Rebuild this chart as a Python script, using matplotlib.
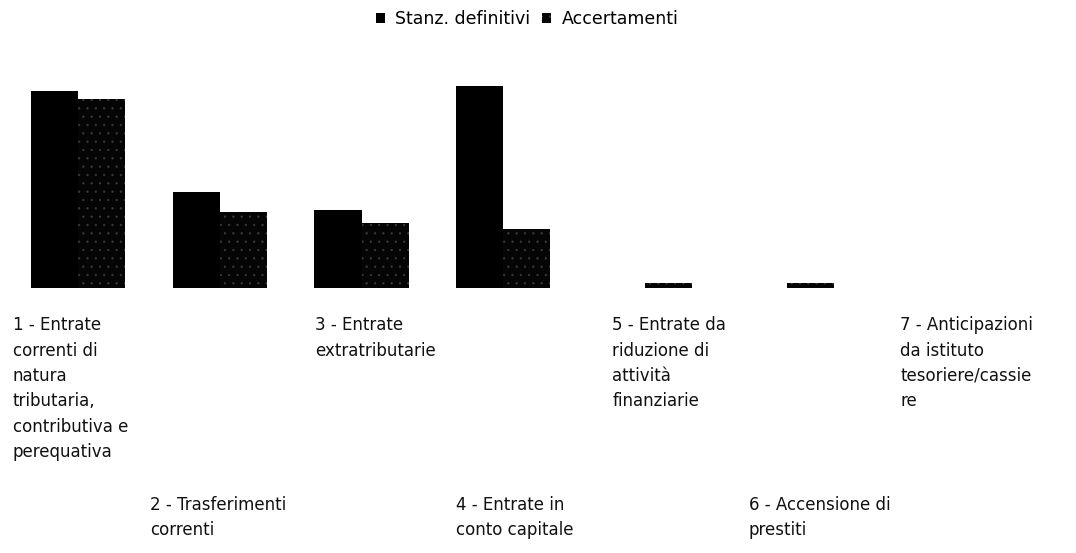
import numpy as np
import matplotlib.pyplot as plt
from matplotlib.patches import Patch

categories = [
    "1 - Entrate\ncorrenti di\nnatura\ntributaria,\ncontributiva e\nperequativa",
    "2 - Trasferimenti\ncorrenti",
    "3 - Entrate\nextratributarie",
    "4 - Entrate in\nconto capitale",
    "5 - Entrate da\nriduzione di\nattività\nfinanziarie",
    "6 - Accensione di\nprestiti",
    "7 - Anticipazioni\nda istituto\ntesoriere/cassie\nre",
]
# relative heights (no y axis in the original)
stanz_definitivi = [197, 96, 78, 202, 0.0, 0.0, 0.0]
accertamenti = [189, 76, 65, 59, 5, 5, 0.0]

# left edge of each label block, relative to the category centre
label_offset = [-0.46, -0.49, -0.33, -0.33, -0.23, -0.27, -0.2]

plt.rcParams['font.family'] = ['DejaVu Sans']
plt.rcParams['hatch.linewidth'] = 0.4

fig = plt.figure(figsize=(10.76, 5.53), dpi=100)
ax = fig.add_axes([0, 0.479, 1, 0.394])

x = np.arange(len(categories))
w = 0.333
ax.bar(x - w / 2, stanz_definitivi, width=w, align='center', color='black', linewidth=0)
ax.bar(x + w / 2, accertamenti, width=w, align='center', facecolor='#050505',
       edgecolor='#3c3c3c', hatch='..', linewidth=0)

ax.set_xlim(-0.55, 7.04)
ax.set_ylim(0, 218)
ax.axis('off')

for i, lab in enumerate(categories):
    y = -0.13 if i % 2 == 0 else -0.955
    ax.text(i + label_offset[i], y, lab, transform=ax.get_xaxis_transform(),
            ha='left', va='top', fontsize=12, linespacing=1.52, color='#111111')

handles = [Patch(facecolor='black', linewidth=0, label='Stanz. definitivi'),
           Patch(facecolor='#050505', edgecolor='#3c3c3c', hatch='..', linewidth=0,
                 label='Accertamenti')]
fig.legend(handles=handles, loc='center', bbox_to_anchor=(0.49, 0.965), ncol=2,
           frameon=False, fontsize=12.5, handlelength=0.5, handleheight=0.5,
           handletextpad=0.6, columnspacing=0.7)

fig.savefig('out.png', dpi=100)
